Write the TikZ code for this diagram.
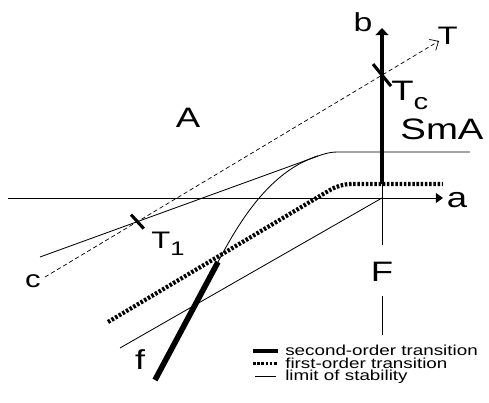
\documentclass[tikz,border=0pt]{standalone}
\usepackage{fontspec}
\setmainfont[FakeStretch=1.3]{Liberation Sans}
\usetikzlibrary{arrows.meta,calc}

\begin{document}
\begin{tikzpicture}[
    thinline/.style={line width=0.6pt},
    firstorder/.style={line width=3pt, dash pattern=on 1.8pt off 1.2pt},
    secondorder/.style={line width=3.5pt},
    tickmark/.style={line width=2.2pt},
    axisarrow/.style={-{Triangle[length=5pt,width=7pt]}, line width=0.6pt},
    dasharrow/.style={-{Straight Barb[length=5pt,width=9pt]}, line width=0.5pt, dash pattern=on 3pt off 2pt},
    biglabel/.style={font=\fontsize{20}{24}\selectfont, inner sep=0pt},
    legendtext/.style={font=\fontsize{10.3}{11}\selectfont, anchor=base west, inner sep=0pt}
]
\useasboundingbox (0,0) rectangle (12.225,10.075);

% Axes
\coordinate (origin) at (9.55,5.125);
\coordinate (aend) at (0.2,5.125);
\coordinate (atip) at (11.075,5.125);
\coordinate (bfoot) at (9.55,5.475);
\coordinate (btip) at (9.55,9.375);
\coordinate (bstem) at (9.55,3.95);
\draw[axisarrow] (aend) -- (atip);
\draw[secondorder, -{Triangle[length=5pt,width=9pt]}] (bfoot) -- (btip);
\draw[thinline] (bfoot) -- (bstem);
\node[biglabel] (alabel) at (11.425,5.075) {a};
\node[biglabel, font=\fontsize{18.5}{22}\selectfont] (blabel) at (9.075,9.525) {b};

% F label and stem
\node[biglabel] (flabel) at (9.55,3.275) {F};
\coordinate (fstem) at (9.55,1.7);
\draw[thinline] ([yshift=-10pt]flabel.south) -- (fstem);

% Limit of stability (upper)
\coordinate (up1) at (1.0,3.65);
\coordinate (up2) at (7.75,6.1);
\coordinate (up3) at (8.45,6.275);
\coordinate (up4) at (11.75,6.275);
\draw[thinline] (up1) -- (up2) .. controls (8.05,6.21) and (8.2,6.275) .. (up3) -- (up4);

% Limit of stability (lower)
\coordinate (lo1) at (3.0,1.375);
\draw[thinline] (lo1) -- (origin);

% First-order transition
\coordinate (fo1) at (2.7,2.025);
\coordinate (fo2) at (8.25,5.325);
\coordinate (fo3) at (8.8,5.475);
\coordinate (fo4) at (11.075,5.475);
\draw[firstorder] (fo1) -- (fo2) .. controls (8.42,5.425) and (8.6,5.475) .. (fo3) -- (fo4);

% Second-order transition f and its continuation
\coordinate (fbottom) at (3.875,0.575);
\coordinate (fjoin) at (5.45,3.525);
\draw[secondorder, line width=4pt] (fbottom) -- (fjoin);
\draw[thinline] (fjoin) .. controls (6.125,4.825) and (6.875,5.825) .. (7.95,6.18);
\node[biglabel, font=\fontsize{19.5}{22}\selectfont] (flow) at (3.5,1.075) {f};

% Temperature path
\coordinate (tstart) at (1.125,3.15);
\coordinate (ttip) at (10.975,9.05);
\draw[dasharrow] (tstart) -- (ttip);
\node[biglabel, font=\fontsize{18}{22}\selectfont] (tlabel) at (11.19,9.175) {T};
\node[biglabel, font=\fontsize{17}{20}\selectfont] (clabel) at (0.825,3.05) {c};

% Crossings Tc and T1
\coordinate (Tc) at (intersection of tstart--ttip and bfoot--btip);
\coordinate (T1) at (intersection of tstart--ttip and up1--up2);
\draw[tickmark] ($(Tc)+(-0.225,0.275)$) -- ($(Tc)+(0.225,-0.275)$);
\draw[tickmark] ($(T1)+(-0.16,0.175)$) -- ($(T1)+(0.16,-0.175)$);
\node[biglabel, anchor=north west] (tclabel) at (9.775,8.05) {T\raisebox{-6pt}{\fontsize{16}{16}\selectfont c}};
\node[biglabel, font=\fontsize{17}{20}\selectfont, anchor=north west] (t1label) at (3.775,4.275) {T\raisebox{-5pt}{\fontsize{14}{14}\selectfont 1}};

% Phase labels
\node[biglabel] (phaseA) at (4.7,7.125) {A};
\node[biglabel, font=\fontsize{21}{24}\selectfont] (phaseSmA) at (11.05,6.85) {SmA};

% Legend
\node[legendtext] (leg2nd) at (7.125,1.19) {second-order transition};
\node[legendtext] (leg1st) at (7.125,0.87) {first-order transition};
\node[legendtext] (legstab) at (7.125,0.55) {limit of stability};
\draw[secondorder, line width=2.8pt] ([shift={(-0.8,0.12)}]leg2nd.base west) -- ([shift={(-0.175,0.12)}]leg2nd.base west);
\draw[firstorder, line width=2.5pt] ([shift={(-0.8,0.12)}]leg1st.base west) -- ([shift={(-0.175,0.12)}]leg1st.base west);
\draw[thinline] ([shift={(-0.75,0.12)}]legstab.base west) -- ([shift={(-0.225,0.12)}]legstab.base west);

\end{tikzpicture}
\end{document}
